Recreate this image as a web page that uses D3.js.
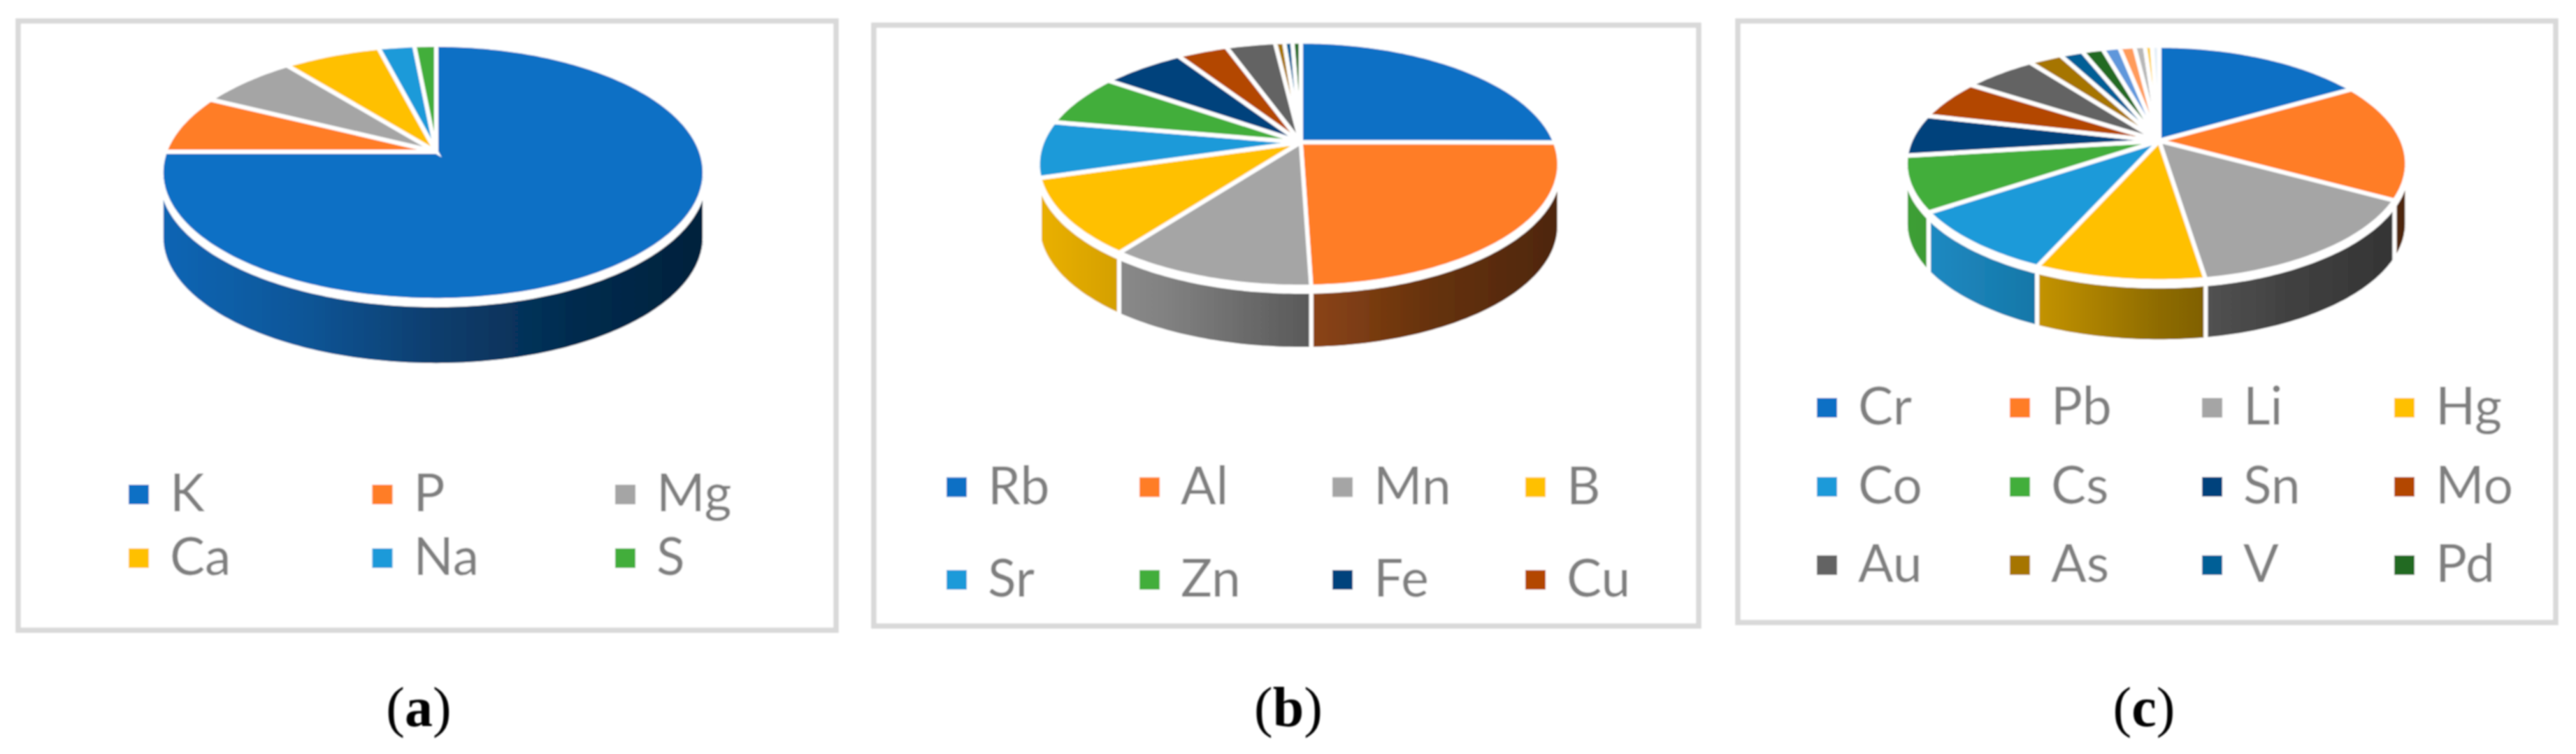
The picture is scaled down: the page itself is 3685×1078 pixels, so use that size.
<!DOCTYPE html>
<html><head><meta charset="utf-8">
<script src="https://cdn.jsdelivr.net/npm/d3@7/dist/d3.min.js"></script>
<style>html,body{margin:0;padding:0;background:#fff}svg{display:block}</style>
</head><body><svg id="chart" width="3685" height="1078"></svg>
<script>
// ---- data (approximate shares in %) ----
const namesA = ["K","P","Mg","Ca","Na","S"];
const valuesA = [75,7.44,6.89,6.69,2.47,1.5];
const namesB = ["Rb","Al","Mn","B","Sr","Zn","Fe","Cu","Au","As","V","Pd"];
const valuesB = [25,24.4,10.8,10.1,7.4,6.9,6.1,3.7,3.6,0.67,0.6,0.6];
const namesC = ["Cr","Pb","Li","Hg","Co","Cs","Sn","Mo","Au","As","V","Pd","Ti","Ni","Sb","Se","Ag"];
const valuesC = [16.7,16.25,14.6,9.1,8.85,7.5,5.75,5.5,5.55,2.55,1.75,1.6,1.3,1.15,0.8,0.55,0.55];
const legendCountA = 6, legendCountB = 8, legendCountC = 12;
const captions = ["a","b","c"];
// ---- styles ----
const palette = ["#0E6FC5","#FF7D26","#A5A5A5","#FFC000","#1F9AD9","#43AE3A","#03437C","#B34700","#636363","#A67400","#005F96","#236B21","#5F97DB","#FF9B5A","#B7B7B7","#FFCD33","#E4F0F8"];
const panels = [
 {names:namesA,values:valuesA,legendCount:legendCountA,frame:[26,30,1196,901],ax:624,ay:217,rxL:388,rxR:379,up:153,k:.162,depth:93,
  colX:[184,532.5,880],rowY:[707,798],caption:[599,1038]},
 {names:namesB,values:valuesB,legendCount:legendCountB,frame:[1250,36,2430,895],ax:1860.7,ay:203.4,rxL:370,rxR:364,up:144,k:.1786,depth:89,
  colX:[1354,1630,1906,2182],rowY:[696.5,829],caption:[1843,1038]},
 {names:namesC,values:valuesC,legendCount:legendCountC,frame:[2486,30,3656,890],ax:3088.7,ay:201.4,rxL:356,rxR:348,up:136,k:.1925,depth:86,
  colX:[2599,2875,3150,3425],rowY:[583,696,808],caption:[3067,1038]}
];
const svg = d3.select("#chart");
const defs = svg.append("defs");
defs.append("filter").attr("id","soft").attr("filterUnits","userSpaceOnUse")
  .attr("x",0).attr("y",0).attr("width",3685).attr("height",1078)
  .append("feGaussianBlur").attr("stdDeviation",0.8);
const shadeStops = [[0,.92],[.25,.78],[.5,.56],[.75,.40],[1,.30]];
const line = d3.line();

panels.forEach((p,pi)=>{
  const g = svg.append("g").attr("filter","url(#soft)");
  const [x0,y0,x1,y1] = p.frame;
  g.append("rect").attr("x",x0).attr("y",y0).attr("width",x1-x0).attr("height",y1-y0)
    .attr("fill","#fff").attr("stroke","#D9D9D9").attr("stroke-width",7.5);

  const h = p.up*(1+p.k);
  const uScale = d3.scaleLinear().domain([-1,0,1]).range([-p.rxL,0,p.rxR]);
  const proj = (t)=>{ // t in radians, clockwise from 12 o'clock
    const u=Math.sin(t), v=Math.cos(t), w=1+p.k*v;
    return [p.ax+uScale(u)/w, p.ay-h*v/w];
  };
  const arcs = d3.pie().sort(null).value(d=>d)(p.values);
  const rimPts=(a,b)=>{
    const n=Math.max(2,Math.ceil((b-a)/(Math.PI/180)));
    return d3.range(n+1).map(i=>proj(a+(b-a)*i/n));
  };
  const left=proj(3*Math.PI/2)[0]-10, right=proj(Math.PI/2)[0]+10;
  const frontA=Math.PI/2+Math.asin(p.k), frontB=3*Math.PI/2-Math.asin(p.k);
  const gapTop=7;

  // side walls
  arcs.forEach((d,i)=>{
    const a=Math.max(d.startAngle,frontA), b=Math.min(d.endAngle,frontB);
    if(b<=a) return;
    const id=`w${pi}_${i}`;
    const base=d3.rgb(palette[i%palette.length]);
    const gr=defs.append("linearGradient").attr("id",id).attr("gradientUnits","userSpaceOnUse")
      .attr("x1",left).attr("x2",right).attr("y1",0).attr("y2",0);
    shadeStops.forEach(s=>gr.append("stop").attr("offset",s[0])
      .attr("stop-color",d3.rgb(base.r*s[1],base.g*s[1],base.b*s[1]).formatHex()));
    const rim=rimPts(a,b);
    const pts=rim.map(q=>[q[0],q[1]+gapTop]).concat(rim.slice().reverse().map(q=>[q[0],q[1]+p.depth]));
    g.append("path").attr("d",line(pts)+"Z").attr("fill",`url(#${id})`)
      .attr("stroke","#fff").attr("stroke-width",6);
  });
  // top surface
  arcs.forEach((d,i)=>{
    const pts=[[p.ax,p.ay]].concat(rimPts(d.startAngle,d.endAngle));
    g.append("path").attr("d",line(pts)+"Z").attr("fill",palette[i%palette.length])
      .attr("stroke","#fff").attr("stroke-width",6).attr("stroke-linejoin","miter");
  });
  // legend
  const nc=p.colX.length;
  p.names.slice(0,p.legendCount).forEach((n,i)=>{
    const cx=p.colX[i%nc], cy=p.rowY[Math.floor(i/nc)];
    g.append("rect").attr("x",cx).attr("y",cy-14).attr("width",29).attr("height",28).attr("fill",palette[i]);
    g.append("text").attr("x",cx+59).attr("y",cy+24).text(n)
      .attr("font-family","Lato, 'Open Sans', sans-serif").attr("font-size",75).attr("fill","#7F7F7F");
  });
  // caption
  const t=g.append("text").attr("x",p.caption[0]).attr("y",p.caption[1]).attr("text-anchor","middle")
    .attr("font-family","'Liberation Serif', serif").attr("font-size",80).attr("fill","#000");
  t.append("tspan").text("(");
  t.append("tspan").attr("font-weight","bold").text(captions[pi]);
  t.append("tspan").text(")");
});
</script></body></html>
